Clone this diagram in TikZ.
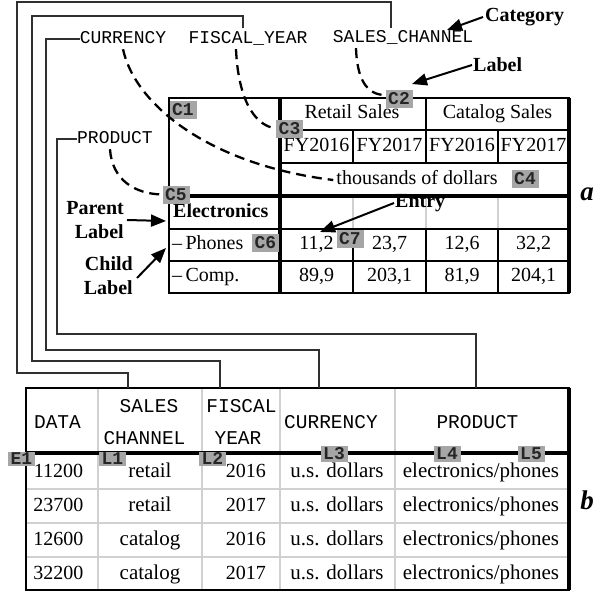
\documentclass[tikz,border=0pt]{standalone}
\usepackage{fontspec}
\setmainfont{Liberation Serif}
\setmonofont{Liberation Mono}
\usetikzlibrary{arrows.meta}
\definecolor{tagfill}{HTML}{A6A6A6}
\definecolor{tagink}{HTML}{262626}
\definecolor{wirecol}{HTML}{303030}
\definecolor{softgrid}{HTML}{D0D0D0}
\tikzset{
  catname/.style={font=\fontsize{18}{20}\selectfont\ttfamily, inner sep=0pt, text height=11pt, text depth=3pt},
  colname/.style={font=\fontsize{19.5}{22}\selectfont\ttfamily, inner sep=0pt, text height=12pt, text depth=3pt},
  cell/.style={font=\fontsize{20}{24}\selectfont, inner sep=0pt, text height=13pt, text depth=4pt},
  wcell/.style={cell, font=\fontsize{21}{24}\selectfont},
  note/.style={font=\fontsize{20}{24}\selectfont\bfseries, inner sep=0pt},
  panel/.style={font=\fontsize{27}{27}\selectfont\bfseries\itshape, inner sep=0pt},
  tag/.style={fill=tagfill, text=tagink, font=\fontsize{18}{18}\selectfont\ttfamily\bfseries,
              minimum width=27pt, minimum height=18pt, inner sep=0pt},
  wire/.style={draw=wirecol, line width=1.2pt},
  link/.style={line width=2.3pt, dash pattern=on 10pt off 6pt},
  pointer/.style={line width=2pt, -{Triangle[length=15pt,width=12pt]}},
  frame/.style={line width=2.2pt},
  heavy/.style={line width=3.6pt},
  rule/.style={line width=1.5pt},
  softrule/.style={draw=softgrid, line width=1.5pt},
}
\begin{document}
\begin{tikzpicture}[x=1pt,y=-1pt]
\fill[white] (0,0) rectangle (606,592);
\useasboundingbox (0,0) rectangle (606,592);

% ---------- category names ----------
\node[catname] (lblCur)  at (123,39)  {CURRENCY};
\node[catname] (lblFY)   at (248,39)  {FISCAL\_YEAR};
\node[catname] (lblSC)   at (403,38)  {SALES\_CHANNEL};
\node[catname] (lblProd) at (115,139) {PRODUCT};

% ---------- table a: grid ----------
\draw[rule] (280,130) -- (569,130);
\draw[rule] (280,163) -- (569,163);
\draw[rule] (426,98) -- (426,163);
\draw[rule] (353,130) -- (353,163);
\draw[rule] (498,130) -- (498,163);
\draw[softrule] (353,196) -- (353,229);
\draw[softrule] (426,196) -- (426,229);
\draw[softrule] (498,196) -- (498,229);
\draw[rule] (169,229) -- (569,229);
\draw[rule] (169,261) -- (569,261);
\foreach \x in {353,426,498} \draw[rule] (\x,229) -- (\x,293);
\draw[heavy] (280,98) -- (280,293);
\draw[heavy] (169,196) -- (569,196);
\draw[frame] (169,98) rectangle (569,293);
\draw[heavy] (569,98) -- (569,293);

% ---------- table a: text ----------
\node[cell] (hRetail)  at (352,114)   {Retail Sales};
\node[cell] (hCatalog) at (497.5,114) {Catalog Sales};
\node[cell] (fyA) at (316.5,147) {FY2016};
\node[cell] (fyB) at (389.5,147) {FY2017};
\node[cell] (fyC) at (462,147)   {FY2016};
\node[cell] (fyD) at (533.5,147) {FY2017};
\node[cell] (thou) at (417,180) {thousands of dollars};
\node[cell, font=\fontsize{20}{24}\selectfont\bfseries, anchor=west] (rElec) at (173,213) {Electronics};
\node[cell, anchor=west] (rPhones) at (172,245) {\textendash\,Phones};
\node[cell, anchor=west] (rComp)   at (172,277) {\textendash\,Comp.};
\node[cell] (vA1) at (316.5,245) {11,2};
\node[cell] (vB1) at (389.5,245) {23,7};
\node[cell] (vC1) at (462,245)   {12,6};
\node[cell] (vD1) at (533.5,245) {32,2};
\node[cell] (vA2) at (316.5,277) {89,9};
\node[cell] (vB2) at (389.5,277) {203,1};
\node[cell] (vC2) at (462,277)   {81,9};
\node[cell] (vD2) at (533.5,277) {204,1};
\node[panel] (panA) at (587,194) {a};

% ---------- table b: grid ----------
\foreach \x in {98,202,280,395} \draw[softrule] (\x,388) -- (\x,590);
\foreach \y in {489,523,557} \draw[softrule] (26,\y) -- (569,\y);
\draw[heavy] (26,453) -- (569,453);
\draw[frame] (26,388) rectangle (569,590);
\draw[heavy] (569,388) -- (569,590);

% ---------- table b: text ----------
\node[colname] (bData)  at (57.5,424) {DATA};
\node[colname] (bSales) at (149,408)  {SALES};
\node[colname] (bChan)  at (144.5,440) {CHANNEL};
\node[colname] (bFisc)  at (241.5,408) {FISCAL};
\node[colname] (bYear)  at (238,440)  {YEAR};
\node[colname] (bCur)   at (331,424)  {CURRENCY};
\node[colname] (bProd)  at (477.5,424) {PRODUCT};
\foreach \v/\c/\f/\y [count=\i] in {11200/retail/2016/473, 23700/retail/2017/507,
                                   12600/catalog/2016/541, 32200/catalog/2017/575}{
  \node[cell] (dv\i) at (58.5,\y) {\v};
  \node[wcell] (dc\i) at (150,\y) {\c};
  \node[cell, anchor=east] (dy\i) at (266,\y) {\f};
  \node[wcell] (du\i) at (337,\y) {u.s. dollars};
  \node[wcell] (dp\i) at (481,\y) {electronics/phones};
}
\node[panel] (panB) at (587,500) {b};

% ---------- wires from category names to columns ----------
\coordinate (upSC) at (391,28);
\coordinate (upFY) at (243,28);
\coordinate (topSC)   at (128,388);
\coordinate (topFY)   at (220,388);
\coordinate (topCur)  at (319,388);
\coordinate (topProd) at (476,388);
\draw[wire] (upSC) |- (17,2) |- (128,373) -- (topSC);
\draw[wire] (upFY) |- (32,16) |- (220,361) -- (topFY);
\draw[wire] (lblCur.west) -| (46,350) -| (topCur);
\draw[wire] (lblProd.west) -| (57,334) -| (topProd);

% ---------- tags ----------
\node[tag] (tC1) at (183,110)   {C1};
\node[tag] (tC2) at (399,99)    {C2};
\node[tag] (tC3) at (289.5,128.5) {C3};
\node[tag] (tC4) at (525,178.5) {C4};
\node[tag] (tC5) at (176,194.5) {C5};
\node[tag] (tC6) at (265.5,243) {C6};
\node[tag] (tC7) at (350,239)   {C7};
\node[tag, minimum height=14pt] (tE1) at (21.5,458.5)  {E1};
\node[tag, minimum height=14pt] (tL1) at (112.5,458.5) {L1};
\node[tag, minimum height=14pt] (tL2) at (212.5,458.5) {L2};
\node[tag, minimum height=16pt] (tL3) at (334,453.5) {L3};
\node[tag, minimum height=16pt] (tL4) at (447,453.5) {L4};
\node[tag, minimum height=16pt] (tL5) at (531,453.5) {L5};

% ---------- dashed links from names to tagged cells ----------
\draw[link] ([yshift=-3pt]lblCur.south) .. controls (135,105) and (210,165) .. ([xshift=-3pt]thou.west);
\draw[link] ([xshift=-12pt,yshift=-3pt]lblFY.south) .. controls (238,95) and (252,125) .. (tC3.west);
\draw[link] ([xshift=-47pt,yshift=-3pt]lblSC.south) .. controls (357,78) and (366,95) .. ([yshift=4pt]tC2.west);
\draw[link] ([xshift=-5pt,yshift=-3pt]lblProd.south) .. controls (112,180) and (135,194) .. (tC5.west);

% ---------- annotations ----------
\node[note, anchor=west] (nCat)   at (485,17)  {Category};
\node[note, anchor=west] (nLabel) at (473,65)  {Label};
\node[note, anchor=west] (nEntry) at (395,203) {Entry};
\node[note, align=right, anchor=east] (nParent) at (124,220) {Parent\\Label};
\node[note, align=right, anchor=east] (nChild)  at (133,276) {Child\\Label};
\coordinate (pCat)    at (447,30);
\coordinate (pLabel)  at (412,84);
\coordinate (pEntry)  at (320,232);
\coordinate (pParent) at (166,221);
\coordinate (pChild)  at (166,248);
\draw[pointer] ([xshift=-2pt]nCat.west) -- (pCat);
\draw[pointer] ([xshift=-1pt]nLabel.west) -- (pLabel);
\draw[pointer] ([xshift=-1pt]nEntry.west) -- (pEntry);
\draw[pointer] ([xshift=3pt]nParent.east) -- (pParent);
\draw[pointer] ([xshift=4pt,yshift=-2pt]nChild.east) -- (pChild);
\end{tikzpicture}
\end{document}
